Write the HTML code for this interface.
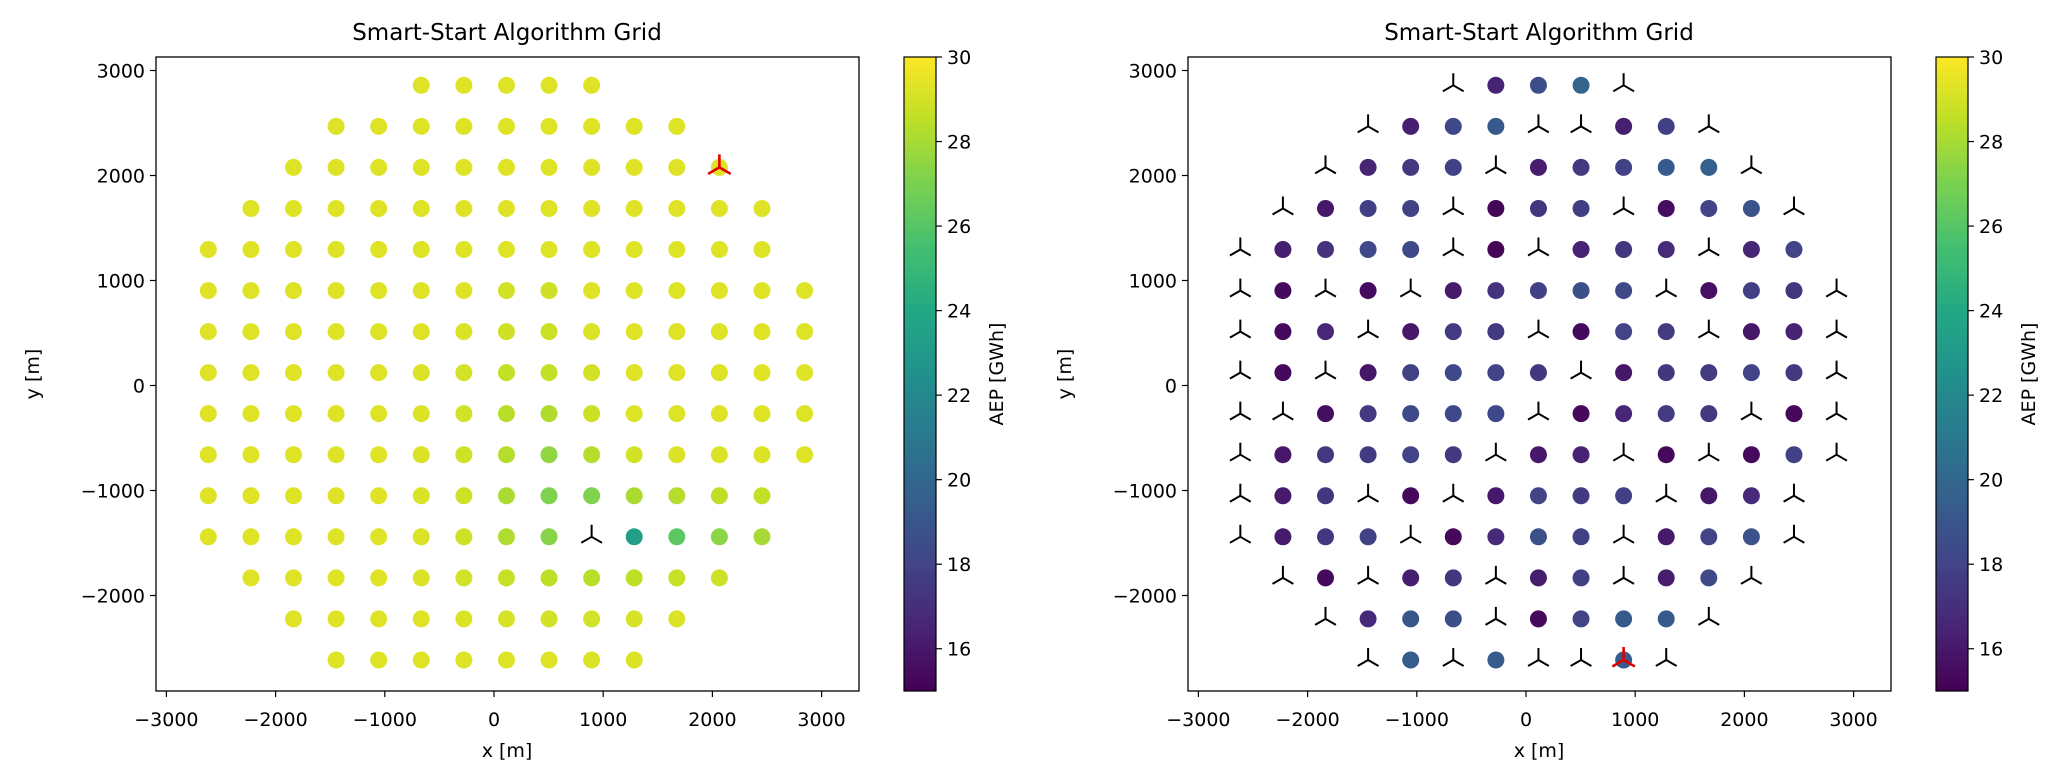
<!DOCTYPE html>
<html><head><meta charset="utf-8">
<style>
html,body{margin:0;padding:0;background:#fff;}
svg{display:block;font-family:"DejaVu Sans","Liberation Sans",sans-serif;}
</style></head>
<body>
<svg id="fig" width="2067" height="778" viewBox="0 0 2067 778" xmlns="http://www.w3.org/2000/svg">
<defs>
<linearGradient id="viridis" x1="0" y1="1" x2="0" y2="0">
<stop offset="0" stop-color="#440154"/><stop offset="0.1" stop-color="#482475"/>
<stop offset="0.2" stop-color="#414487"/><stop offset="0.3" stop-color="#355f8d"/>
<stop offset="0.4" stop-color="#2a788e"/><stop offset="0.5" stop-color="#21918c"/>
<stop offset="0.6" stop-color="#22a884"/><stop offset="0.7" stop-color="#44bf70"/>
<stop offset="0.8" stop-color="#7ad151"/><stop offset="0.9" stop-color="#bddf26"/>
<stop offset="1" stop-color="#fde725"/>
</linearGradient>
</defs>
</svg>
<script>
// ---- data ----
const gridX = [-2616,-2226,-1836,-1446,-1056,-666,-276,114,504,894,1284,1674,2064,2454,2844];
const gridY = [2859,2468,2077,1686,1295,904,513,123,-268,-659,-1050,-1441,-1832,-2223,-2614];
const rowStart = [5,3,2,1,0,0,0,0,0,0,0,0,1,2,3];
const xTicks = [-3000,-2000,-1000,0,1000,2000,3000];
const yTicks = [3000,2000,1000,0,-1000,-2000];
const cbTicks = [16,18,20,22,24,26,28,30];
const cbMin = 15, cbMax = 30;
// left plot values (null = turbine without dot)
const leftVals = [
 [29.3,29.3,29.3,29.3,29.3],
 [29.3,29.3,29.3,29.3,29.3,29.3,29.3,29.3,29.3],
 [29.3,29.3,29.3,29.3,29.3,29.3,29.3,29.3,29.3,29.3,29.3],
 [29.3,29.3,29.3,29.3,29.3,29.3,29.3,29.3,29.3,29.3,29.3,29.3,29.3],
 [29.3,29.3,29.3,29.3,29.3,29.3,29.3,29.3,29.3,29.3,29.3,29.3,29.3,29.3],
 [29.3,29.3,29.3,29.3,29.3,29.3,29.3,29.0,28.9,29.3,29.3,29.3,29.3,29.3,29.3],
 [29.3,29.3,29.3,29.3,29.3,29.3,29.2,28.9,28.8,29.2,29.3,29.3,29.3,29.3,29.3],
 [29.3,29.3,29.3,29.3,29.3,29.2,29.0,28.6,28.6,29.0,29.3,29.3,29.3,29.3,29.3],
 [29.3,29.3,29.3,29.3,29.3,29.2,29.0,28.4,28.2,28.8,29.3,29.3,29.3,29.3,29.3],
 [29.3,29.3,29.3,29.3,29.3,29.2,28.9,28.3,27.5,28.3,29.0,29.2,29.2,29.2,29.3],
 [29.3,29.3,29.3,29.3,29.3,29.2,28.9,28.1,27.1,27.1,28.1,28.3,28.5,28.6],
 [29.3,29.3,29.3,29.3,29.3,29.2,28.9,28.2,27.3,null,23.4,26.2,27.4,28.0],
 [29.3,29.3,29.3,29.3,29.2,29.0,28.7,28.5,28.4,28.5,28.7,28.9],
 [29.3,29.3,29.3,29.3,29.2,29.1,29.0,29.0,29.1,29.2],
 [29.3,29.3,29.3,29.3,29.3,29.3,29.2,29.2]
];
// right plot values (null = turbine without dot)
const rightVals = [
 [null,16.5,18.5,19.8,null],
 [null,16.3,18.2,19.2,null,null,16.3,17.8,null],
 [null,16.5,17.5,17.9,null,16.2,17.5,17.9,19.2,19.5,null],
 [null,16.0,17.8,17.9,null,15.2,17.3,17.7,null,15.5,18.0,18.8,null],
 [null,16.3,17.2,18.2,18.2,null,15.2,null,16.4,17.3,16.8,null,16.6,18.0],
 [null,15.4,null,15.4,null,16.1,17.2,17.8,18.6,18.3,null,15.6,17.8,17.3,null],
 [null,15.4,16.7,null,16.0,17.6,17.5,null,15.4,18.0,17.6,null,15.9,16.4,null],
 [null,15.4,null,15.9,17.9,18.2,18.0,17.4,null,15.9,17.4,17.6,18.0,17.5,null],
 [null,null,15.5,17.5,18.2,18.2,18.2,null,15.3,16.6,17.6,17.5,null,15.3,null],
 [null,16.0,17.4,17.6,18.0,17.5,null,16.0,16.4,null,15.3,null,15.4,17.9,null],
 [null,16.1,17.3,null,15.3,null,16.0,18.0,17.6,17.8,null,15.9,16.8,null],
 [null,16.1,17.4,17.9,null,15.3,16.8,18.6,17.8,null,16.1,18.0,18.8,null],
 [null,15.4,null,16.2,17.4,null,16.2,17.8,null,16.2,18.3,null],
 [null,16.8,19.0,18.6,null,15.3,18.0,19.2,19.2,null],
 [null,19.4,null,19.4,null,null,19.4,null]
];
const leftRed = [2,12], rightRed = [14,9];

// ---- helpers ----
const NS = "http://www.w3.org/2000/svg";
const svg = document.getElementById('fig');
function mk(tag, attrs, parent){ const e=document.createElementNS(NS,tag); for(const k in attrs) e.setAttribute(k,attrs[k]); (parent||svg).appendChild(e); return e; }
const vir = ["#440154","#482475","#414487","#355f8d","#2a788e","#21918c","#22a884","#44bf70","#7ad151","#bddf26","#fde725"];
function hex(h){return [parseInt(h.substr(1,2),16),parseInt(h.substr(3,2),16),parseInt(h.substr(5,2),16)];}
function cmap(v){ let t=(v-cbMin)/(cbMax-cbMin); t=Math.max(0,Math.min(1,t)); const f=t*10, i=Math.min(9,Math.floor(f)), r=f-i;
 const a=hex(vir[i]), b=hex(vir[i+1]); return "rgb("+a.map((c,j)=>Math.round(c+(b[j]-c)*r)).join(",")+")"; }

function tri(g, cx, cy, color, sw, r){
 const p = mk('path',{d:`M${cx},${cy} L${cx},${cy-r} M${cx},${cy} L${cx-r*0.866},${cy+r*0.5} M${cx},${cy} L${cx+r*0.866},${cy+r*0.5}`,stroke:color,'stroke-width':sw,fill:'none','stroke-linecap':'butt'},g);
 return p;
}

function panel(ox, vals, red, id){
 const L=ox+156, R=ox+859, T=57, B=691;
 const x0=ox+494, sx=0.1092, y0=385.5, sy=0.105;
 const X=m=>x0+m*sx, Y=m=>y0-m*sy;
 const g = mk('g',{});
 
 
 const title = mk('text',{x:ox+507,y:40,'text-anchor':'middle','font-size':23},g);
 title.textContent='Smart-Start Algorithm Grid';
 
 
 const marks = mk('g',{},g);
 
 
 vals.forEach((row,ri)=>{ row.forEach((v,ci)=>{ const col=rowStart[ri]+ci; const cx=X(gridX[col]), cy=Y(gridY[ri]);
   if(v===null){ const t=tri(marks,cx,cy,'#000',2,12);
     
     
   } else { const c=mk('circle',{cx:cx,cy:cy,r:8.5,fill:cmap(v)},marks);
     
     
   }
 });});
 const rx=X(gridX[red[1]]), ry=Y(gridY[red[0]]);
 const rt = tri(marks,rx,ry,'#e00000',2.6,13);
 
 
 const fr = mk('rect',{x:L,y:T,width:R-L,height:B-T,fill:'none',stroke:'#000','stroke-width':1.3},g);
 
 
 xTicks.forEach(t=>{ const px=X(t); mk('line',{x1:px,y1:B,x2:px,y2:B+6,stroke:'#000','stroke-width':1.2},g);
   const tx=mk('text',{x:px,y:726,'text-anchor':'middle','font-size':19},g); tx.textContent=(t<0?'\u2212'+(-t):t);
   
    });
 yTicks.forEach(t=>{ const py=Y(t); mk('line',{x1:L-6,y1:py,x2:L,y2:py,stroke:'#000','stroke-width':1.2},g);
   const ty=mk('text',{x:L-11,y:py+7,'text-anchor':'end','font-size':19},g); ty.textContent=(t<0?'\u2212'+(-t):t);
   
    });
 const xl=mk('text',{x:ox+507,y:757,'text-anchor':'middle','font-size':19},g); xl.textContent='x [m]';
 
 
 const yl=mk('text',{x:0,y:0,'text-anchor':'middle','font-size':19,transform:`translate(${ox+39},${374}) rotate(-90)`},g); yl.textContent='y [m]';
 
 
 const cL=ox+904, cR=ox+936;
 const cb=mk('rect',{x:cL,y:T,width:cR-cL,height:B-T,fill:'url(#viridis)',stroke:'#000','stroke-width':1.2},g);
 
 
 const CY=v=>B-(v-cbMin)/(cbMax-cbMin)*(B-T);
 cbTicks.forEach(t=>{ const py=CY(t); mk('line',{x1:cR,y1:py,x2:cR+6,y2:py,stroke:'#000','stroke-width':1.2},g);
   const tl=mk('text',{x:cR+11,y:py+7,'font-size':19},g); tl.textContent=t;
   
    });
 const cl=mk('text',{x:0,y:0,'text-anchor':'middle','font-size':19,transform:`translate(${ox+1003},${374}) rotate(-90)`},g); cl.textContent='AEP [GWh]';
 
 
}
panel(0, leftVals, leftRed, 'left');
panel(1032, rightVals, rightRed, 'right');
</script>
</body></html>
